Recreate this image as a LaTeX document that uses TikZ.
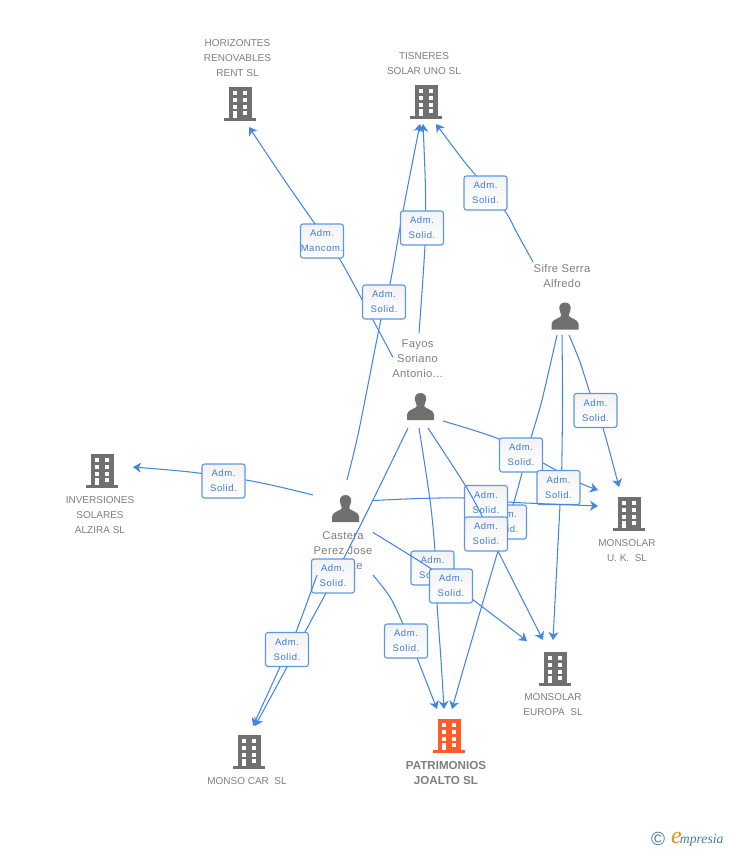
\documentclass[tikz,border=0pt]{standalone}
\usepackage{fontspec}
\setmainfont{Liberation Sans}
\newfontfamily\lblfont[LetterSpace=6]{Liberation Sans}
\newfontfamily\namefont[LetterSpace=3]{Liberation Sans}
\newfontfamily\logofont{Liberation Serif}
\usetikzlibrary{arrows.meta}
\definecolor{linkblue}{HTML}{4385E3}
\definecolor{boxblue}{HTML}{5C97E6}
\definecolor{lbltext}{HTML}{3A7BD8}
\definecolor{icongray}{HTML}{707070}
\definecolor{namegray}{HTML}{7E7E7E}
\definecolor{iconorange}{HTML}{FF5B2D}
\definecolor{logoteal}{HTML}{3F7F9C}
\definecolor{logoorange}{HTML}{F08A24}
\tikzset{
  x=1pt,y=-1pt,
  link/.style={draw=linkblue,line width=1.05pt,-{Stealth[length=8pt,width=10pt,inset=2.5pt]}},
  lbl/.style={rectangle,rounded corners=2.5pt,draw=boxblue,line width=1.1pt,top color=black!5,bottom color=white,
    minimum width=43pt,minimum height=34pt,inner sep=0pt,align=center,text=lbltext,
    font=\fontsize{9.5}{15}\selectfont\lblfont},
  iconspot/.style={rectangle,minimum width=32pt,minimum height=34pt,inner sep=0pt},
  compname/.style={align=center,text=namegray,inner sep=0pt,font=\fontsize{10}{15}\selectfont},
  persname/.style={align=center,text=namegray,inner sep=0pt,font=\fontsize{11.2}{15}\selectfont\namefont},
  pics/bldg/.style={code={
    \fill[#1] (-11,-17) rectangle (12,14);
    \fill[#1] (-16,14) rectangle (16,17);
    \foreach \yy in {-13,-6,0.7}{
      \fill[white] (-7.3,\yy) rectangle (-2.7,\yy+4);
      \fill[white] (2.7,\yy) rectangle (7.3,\yy+4);
    }
    \fill[white] (-7,7) rectangle (-3,14);
    \fill[white] (2.7,7) rectangle (7.3,11);
  }},
  pics/pers/.style={code={
    \fill[icongray] (0,-13.5) .. controls (4.5,-13.5) and (6,-10) .. (5.6,-7)
      .. controls (5.3,-4) and (4,-2.5) .. (3.6,-0.5) .. controls (3.6,2) and (13.5,3) .. (13.5,8)
      -- (13.5,13.5) -- (-13.5,13.5) -- (-13.5,8)
      .. controls (-13.5,3) and (-3.6,2) .. (-3.6,-0.5) .. controls (-4,-2.5) and (-5.3,-4) .. (-5.6,-7)
      .. controls (-6,-10) and (-4.5,-13.5) .. (0,-13.5) -- cycle;
  }},
}
\newcommand{\adm}{Adm.\\Solid.}
\begin{document}
\begin{tikzpicture}
\useasboundingbox (0,0) rectangle (728,850);
% companies
\node[iconspot] (hor) at (240,104) {}; \pic at (hor) {bldg=icongray};
\node[iconspot] (tis) at (426,102) {}; \pic at (tis) {bldg=icongray};
\node[iconspot] (inv) at (102,471) {}; \pic at (inv) {bldg=icongray};
\node[iconspot] (muk) at (629,514) {}; \pic at (muk) {bldg=icongray};
\node[iconspot] (eur) at (555,669) {}; \pic at (eur) {bldg=icongray};
\node[iconspot] (car) at (249,752) {}; \pic at (car) {bldg=icongray};
\node[iconspot] (pat) at (449,736) {}; \pic at (pat) {bldg=iconorange};
% people
\node[iconspot] (sif) at (565,316) {}; \pic at (sif) {pers};
\node[iconspot] (fay) at (420.5,406.5) {}; \pic at (fay) {pers};
\node[iconspot] (cas) at (345.5,508.5) {}; \pic at (cas) {pers};
% names
\node[compname] (horT) at (237.5,58.5) {HORIZONTES\\RENOVABLES\\RENT SL};
\node[compname] (tisT) at (424,64) {TISNERES\\SOLAR UNO SL};
\node[compname] (invT) at (100,515.5) {INVERSIONES\\SOLARES\\ALZIRA SL};
\node[compname] (mukT) at (627,551) {MONSOLAR\\U. K.\ \ SL};
\node[compname] (eurT) at (553,705) {MONSOLAR\\EUROPA\ \ SL};
\node[compname] (carT) at (247,781.5) {MONSO CAR\ \ SL};
\node[compname,font=\fontsize{11.6}{15}\selectfont\bfseries] (patT) at (446,773) {PATRIMONIOS\\JOALTO SL};
\node[persname] (sifT) at (562,275.5) {Sifre Serra\\Alfredo};
\node[persname] (fayT) at (417.5,359) {Fayos\\Soriano\\Antonio...};
\node[persname] (casT) at (343,551) {Castera\\Perez Jose\\Vicente};
% connectors, each with its label on top of it
\draw[link] plot[smooth,tension=.5] coordinates {([shift={(-27.5,-49)}]fay.center) (366,307) (339,258) (315,224) (283,178) ([shift={(9,23)}]hor.center)};
\node[lbl] (l1) at (322,241) {Adm.\\Mancom.};
\draw[link] plot[smooth,tension=.5] coordinates {([shift={(1.5,-28.5)}]cas.center) (359,430) (381,319) (390,284) (403,211) ([shift={(-6,22)}]tis.center)};
\node[lbl] (l2) at (384,302) {\adm};
\draw[link] plot[smooth,tension=.5] coordinates {([shift={(-1.5,-73.5)}]fay.center) (425,245) (425.5,190) ([shift={(-3,22)}]tis.center)};
\node[lbl] (l3) at (422,228) {\adm};
\draw[link] plot[smooth,tension=.5] coordinates {([shift={(-32,-54)}]sif.center) (517,233) (505,211) (478,178) (463,160) ([shift={(10,22)}]tis.center)};
\node[lbl] (l4) at (485.5,193) {\adm};
\draw[link] plot[smooth,tension=.5] coordinates {([shift={(-32.5,-13.5)}]cas.center) (280,487) (246,480) (190,472) ([shift={(31,-4)}]inv.center)};
\node[lbl] (l5) at (223.5,481) {\adm};
\draw[link] plot[smooth,tension=.5] coordinates {([shift={(-8,19)}]sif.center) (542,400) (531,438) (522,473) (513,505) (498,551) (466,660) ([shift={(3,-27)}]pat.center)};
\node[lbl] (l6) at (505,522) {\adm};
\draw[link] plot[smooth,tension=.5] coordinates {([shift={(4,19)}]sif.center) (580,362) (590,393) (603,428) ([shift={(-10,-27)}]muk.center)};
\node[lbl] (l7) at (595.5,410.5) {\adm};
\draw[link] plot[smooth,tension=.5] coordinates {([shift={(22.5,14.5)}]fay.center) (499,439) (543,463) (580,483) ([shift={(-31,-24)}]muk.center)};
\node[lbl] (l8) at (521,455) {\adm};
\draw[link] plot[smooth,tension=.5] coordinates {([shift={(-3,19)}]sif.center) (562.5,400) (561.7,470) (560,505) ([shift={(-2,-29)}]eur.center)};
\node[lbl] (l9) at (558.5,487.5) {\adm};
\draw[link] plot[smooth,tension=.5] coordinates {([shift={(27.5,-8)}]cas.center) (420,498.5) (464,498) (508,502) (537,503.5) ([shift={(-31,-8)}]muk.center)};
\node[lbl] (l10) at (486,502.5) {\adm};
\draw[link] plot[smooth,tension=.5] coordinates {([shift={(7.5,21.5)}]fay.center) (465,485) (482,516) (498,551) ([shift={(-12,-29)}]eur.center)};
\node[lbl] (l11) at (486,534) {\adm};
\draw[link] plot[smooth,tension=.5] coordinates {([shift={(-1.5,21.5)}]fay.center) (430,500) (435,551) (437,603) (441,660) ([shift={(-5,-27)}]pat.center)};
\node[lbl] (l12) at (432.5,568) {\adm};
\draw[link] plot[smooth,tension=.5] coordinates {([shift={(27.5,24)}]cas.center) (430,568) (472,599) ([shift={(-28,-28)}]eur.center)};
\node[lbl] (l13) at (451,586) {\adm};
\draw[link] plot[smooth,tension=.5] coordinates {([shift={(27.5,66.5)}]cas.center) (390,597) (403,624) (417,658) ([shift={(-12,-27)}]pat.center)};
\node[lbl] (l14) at (406,641) {\adm};
\draw[link] plot[smooth,tension=.5] coordinates {([shift={(-12.5,21.5)}]fay.center) (373,500) (344,558) (326,593) (305,632) (287,667) ([shift={(6,-26)}]car.center)};
\node[lbl] (l15) at (333,576) {\adm};
\draw[link] plot[smooth,tension=.5] coordinates {([shift={(-28.5,66.5)}]cas.center) (296,632) (280,667) ([shift={(4,-26)}]car.center)};
\node[lbl] (l16) at (287,649.5) {\adm};
% logo
\node[text=logoteal,inner sep=0pt,font=\fontsize{19}{19}\selectfont] (copy) at (658,839) {©};
\node[text=logoteal,inner sep=0pt,anchor=base west,font=\fontsize{13.7}{14}\selectfont\logofont\itshape] (brand) at (671,843) {{\color{logoorange}\fontsize{24}{24}\selectfont e}\kern-2pt mpresia};
\end{tikzpicture}
\end{document}
